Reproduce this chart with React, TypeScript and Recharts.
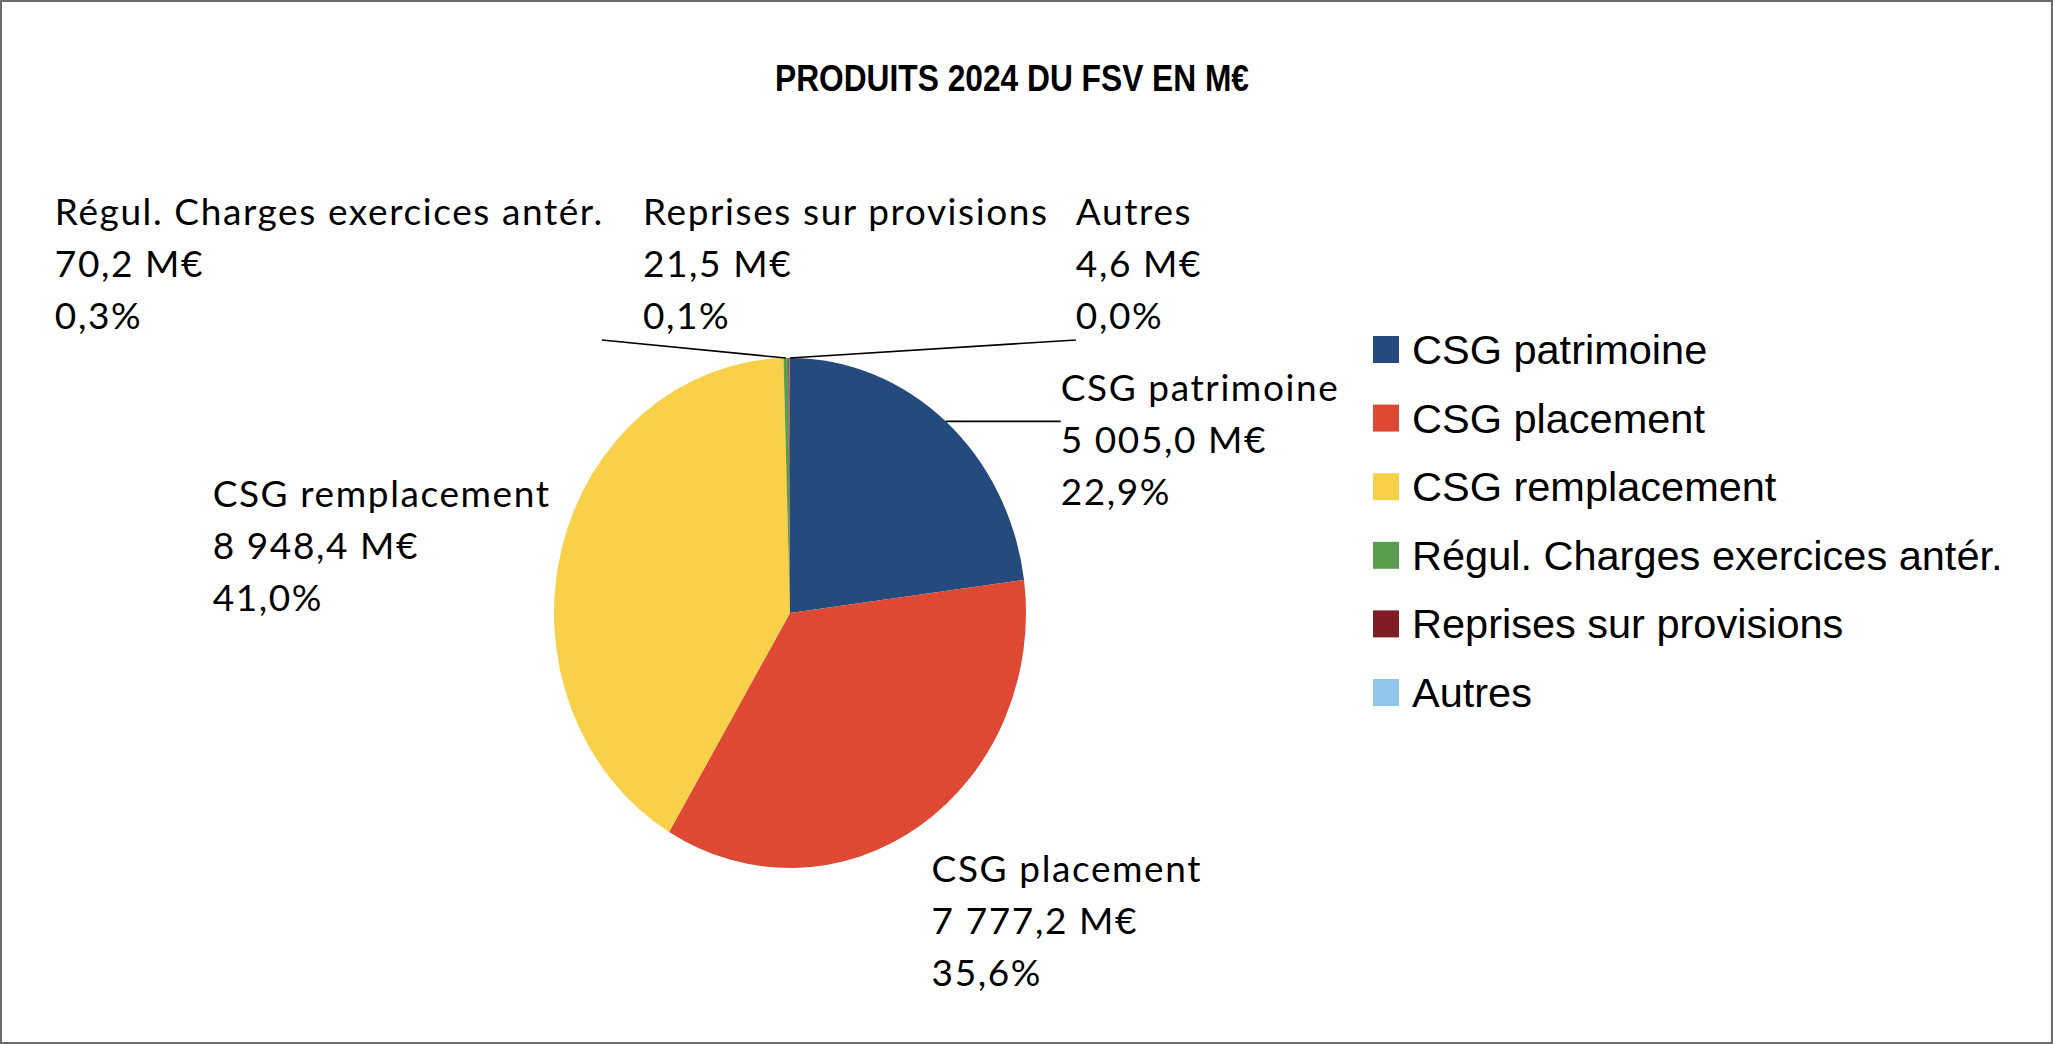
import React from 'react';
import { PieChart, Pie, Cell, Legend } from 'recharts';

const categories = [
  'CSG patrimoine',
  'CSG placement',
  'CSG remplacement',
  'Régul. Charges exercices antér.',
  'Reprises sur provisions',
  'Autres',
];
const values = [5005.0, 7777.2, 8948.4, 70.2, 21.5, 4.6];
const colors = ['#254A7E', '#DD4933', '#F9D04A', '#589E4C', '#7E1E24', '#8EC5E9'];
const title = 'PRODUITS 2024 DU FSV EN M€';
const unit = 'M€';

const data = categories.map((name, i) => ({ name, value: values[i] }));

// layout
const W = 2053;
const H = 1044;
const CX = 790;
const CY = 613;
const RY = 255;
const RX_RATIO = 236 / 255;
const RAD = Math.PI / 180;
const LABEL_FONT = 'Lato, "Open Sans", sans-serif';
const LABEL_SIZE = 37;
const LINE_H = 52;

// offsets of each label (first baseline start) from the slice's edge point, and optional leader-line end
const labelLayout: { dx: number; dy: number; line: [number, number] | null }[] = [
  { dx: 115, dy: -20, line: [115, 0] },
  { dx: 12, dy: 56, line: null },
  { dx: -349, dy: -42, line: null },
  { dx: -731, dy: -133, line: [-184, -18] },
  { dx: -146, dy: -133, line: null },
  { dx: 286, dy: -133, line: [286, -18] },
];

const fmtNum = (v: number) => {
  const [int, dec] = v.toFixed(1).split('.');
  return int.replace(/\B(?=(\d{3})+(?!\d))/g, ' ') + ',' + dec;
};
const fmtPct = (p: number) => (p * 100).toFixed(1).replace('.', ',') + '%';

const renderLabel = (props: any) => {
  const { cx, cy, outerRadius, midAngle, index, value, percent, name } = props;
  const ex = cx + outerRadius * RX_RATIO * Math.cos(midAngle * RAD);
  const ey = cy - outerRadius * Math.sin(midAngle * RAD);
  const lay = labelLayout[index];
  const tx = ex + lay.dx;
  const ty = ey + lay.dy;
  return (
    <g key={`lbl-${index}`}>
      {lay.line && (
        <line x1={ex} y1={ey} x2={ex + lay.line[0]} y2={ey + lay.line[1]} stroke="#000" strokeWidth={1.6} />
      )}
      <text
        x={tx}
        y={ty}
        fontFamily={LABEL_FONT}
        fontSize={LABEL_SIZE}
        letterSpacing={1.6}
        fill="#000"
        textAnchor="start"
      >
        <tspan x={tx} dy={0}>{name}</tspan>
        <tspan x={tx} dy={LINE_H}>{`${fmtNum(value)} ${unit}`}</tspan>
        <tspan x={tx} dy={LINE_H}>{fmtPct(percent)}</tspan>
      </text>
    </g>
  );
};

const renderLegend = (props: any) => {
  const payload = [...(props.payload || [])].sort(
    (a: any, b: any) => categories.indexOf(a.value) - categories.indexOf(b.value)
  );
  return (
    <svg width={693} height={400} style={{ display: 'block' }}>
      {payload.map((entry: any, i: number) => (
        <g key={`leg-${i}`}>
          <rect
            x={13}
            y={16 + i * 68.6}
            width={26}
            height={27}
            fill={entry.color || colors[categories.indexOf(entry.value)]}
          />
          <text
            x={52}
            y={44 + i * 68.6}
            fontFamily='"Liberation Sans", Arial, sans-serif'
            fontSize={41.5}
            fill="#000"
          >
            {entry.value}
          </text>
        </g>
      ))}
    </svg>
  );
};

export default function App() {
  return (
    <div
      style={{
        position: 'fixed',
        left: 0,
        top: 0,
        width: W,
        height: H,
        background: '#fff',
        overflow: 'hidden',
      }}
    >
      <style>{`.recharts-sector{transform:scaleX(${RX_RATIO});transform-origin:${CX}px ${CY}px;}`}</style>
      <PieChart width={W} height={H} margin={{ top: 0, right: 0, bottom: 0, left: 0 }}>
        <Pie
          data={data}
          dataKey="value"
          nameKey="name"
          cx={CX}
          cy={CY}
          outerRadius={RY}
          startAngle={90}
          endAngle={-270}
          stroke="none"
          isAnimationActive={false}
          label={renderLabel}
          labelLine={false}
        >
          {data.map((d, i) => (
            <Cell key={`c-${i}`} fill={colors[i]} />
          ))}
        </Pie>
        <Legend
          layout="vertical"
          align="right"
          verticalAlign="top"
          content={renderLegend}
          wrapperStyle={{ left: 1360, top: 320, right: 'auto', width: 693, height: 400 }}
        />
      </PieChart>
      <svg
        width={W}
        height={H}
        style={{ position: 'absolute', left: 0, top: 0, pointerEvents: 'none' }}
      >
        <rect x={1} y={1} width={W - 2} height={H - 2} fill="none" stroke="#6b6b6b" strokeWidth={2} />
        <text
          x={1012}
          y={91}
          textAnchor="middle"
          fontFamily='"Liberation Sans", Arial, sans-serif'
          fontWeight="bold"
          fontSize={37}
          textLength={474}
          lengthAdjust="spacingAndGlyphs"
          fill="#000"
        >
          {title}
        </text>
      </svg>
    </div>
  );
}
